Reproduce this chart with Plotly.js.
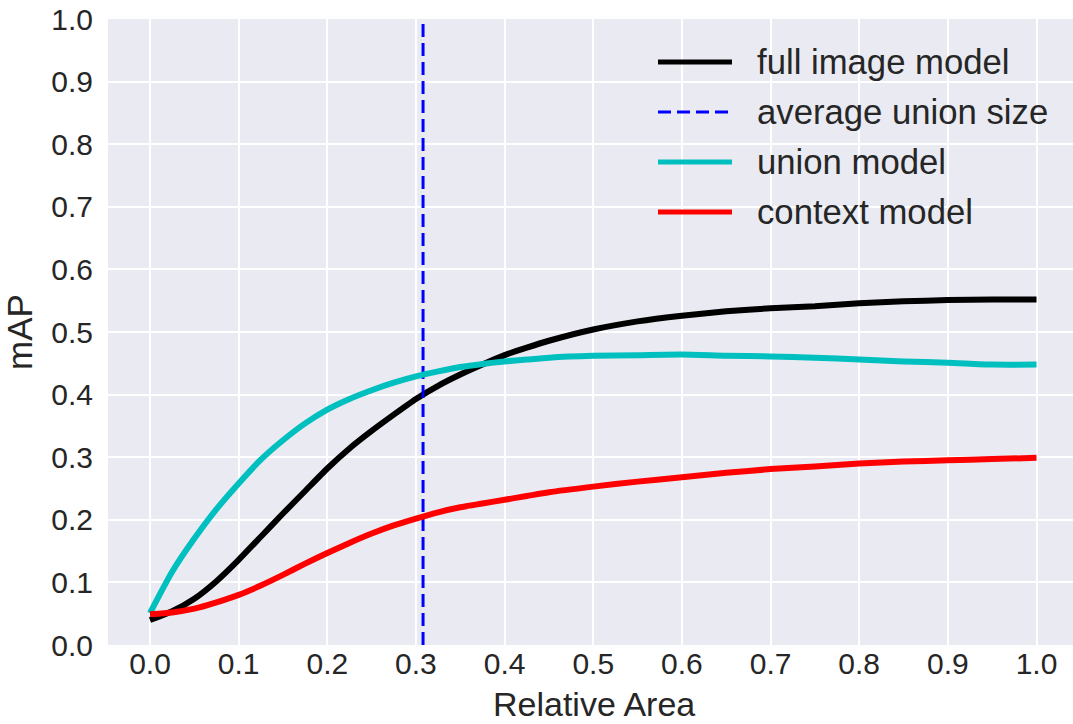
<!DOCTYPE html>
<html>
<head>
<meta charset="utf-8">
<script src="https://cdn.plot.ly/plotly-3.0.1.min.js"></script>
<style>html,body{margin:0;padding:0;background:#fff;}#chart{width:1073px;height:724px;}</style>
</head>
<body>
<div id="chart"></div>
<script>
var relArea = [0, 0.025, 0.05, 0.075, 0.1, 0.125, 0.15, 0.175, 0.2, 0.225, 0.25, 0.275, 0.3, 0.325, 0.35, 0.375, 0.4, 0.425, 0.45, 0.5, 0.55, 0.6, 0.65, 0.7, 0.75, 0.8, 0.85, 0.9, 0.95, 1.0];
var fullImage = [0.040, 0.054, 0.074, 0.102, 0.136, 0.173, 0.210, 0.246, 0.282, 0.314, 0.342, 0.368, 0.393, 0.414, 0.432, 0.448, 0.463, 0.475, 0.486, 0.504, 0.517, 0.526, 0.533, 0.538, 0.541, 0.546, 0.549, 0.551, 0.552, 0.552];
var unionModel = [0.051, 0.117, 0.170, 0.217, 0.258, 0.296, 0.327, 0.354, 0.376, 0.393, 0.407, 0.419, 0.429, 0.437, 0.444, 0.449, 0.453, 0.456, 0.459, 0.462, 0.463, 0.464, 0.462, 0.461, 0.459, 0.456, 0.453, 0.451, 0.448, 0.448];
var contextModel = [0.049, 0.052, 0.058, 0.068, 0.080, 0.095, 0.112, 0.130, 0.147, 0.163, 0.178, 0.191, 0.202, 0.212, 0.220, 0.226, 0.232, 0.238, 0.244, 0.253, 0.261, 0.268, 0.275, 0.281, 0.285, 0.290, 0.293, 0.295, 0.297, 0.299];
var avgUnionSize = 0.308;
var legendNames = ["full image model", "average union size", "union model", "context model"];
var tickVals = [0, 0.1, 0.2, 0.3, 0.4, 0.5, 0.6, 0.7, 0.8, 0.9, 1.0];
var tickText = ["0.0", "0.1", "0.2", "0.3", "0.4", "0.5", "0.6", "0.7", "0.8", "0.9", "1.0"];
var xTitle = "Relative Area";
var yTitle = "mAP";

var FONT = "Liberation Sans, Arial, sans-serif";
var TXT = "#262626";

var traces = [
  {x: relArea, y: fullImage, mode: "lines", name: legendNames[0], line: {color: "#000000", width: 6, shape: "spline", smoothing: 0.6}},
  {x: [avgUnionSize, avgUnionSize], y: [0, 1], mode: "lines", name: legendNames[1], line: {color: "#0000ff", width: 3, dash: "13px,6px"}},
  {x: relArea, y: unionModel, mode: "lines", name: legendNames[2], line: {color: "#00bfbf", width: 6, shape: "spline", smoothing: 0.6}},
  {x: relArea, y: contextModel, mode: "lines", name: legendNames[3], line: {color: "#ff0000", width: 6, shape: "spline", smoothing: 0.6}}
];

// manual legend (matplotlib style long handles)
var L = 108, R = 1073, T = 19, B = 645;
function px(x){ return (x - L) / (R - L); }
function py(y){ return (B - y) / (B - T); }
var legStyles = [
  {color: "#000000", width: 5, dash: "solid"},
  {color: "#0000ff", width: 3, dash: "13px,6px"},
  {color: "#00bfbf", width: 5, dash: "solid"},
  {color: "#ff0000", width: 5, dash: "solid"}
];
var legY = [62, 112, 162, 212];
var shapes = [], annotations = [];
for (var i = 0; i < legendNames.length; i++) {
  shapes.push({type: "line", xref: "paper", yref: "paper", x0: px(658), x1: px(732), y0: py(legY[i]), y1: py(legY[i]), line: legStyles[i]});
  annotations.push({xref: "paper", yref: "paper", x: px(755), y: py(legY[i]), xanchor: "left", yanchor: "middle", showarrow: false, text: legendNames[i], font: {family: FONT, size: 34.7, color: TXT}});
}
// x axis title placed like the reference
annotations.push({xref: "paper", yref: "paper", x: px(594), y: py(704), xanchor: "center", yanchor: "middle", showarrow: false, text: xTitle, font: {family: FONT, size: 34, color: TXT}});

var layout = {
  width: 1073, height: 724,
  margin: {l: 108, r: 0, t: 19, b: 79, pad: 0},
  paper_bgcolor: "#ffffff",
  plot_bgcolor: "#EAEAF2",
  showlegend: false,
  font: {family: FONT, color: TXT, size: 30},
  xaxis: {
    range: [-42/886.5, 923/886.5],
    tickmode: "array", tickvals: tickVals, ticktext: tickText,
    showgrid: true, gridcolor: "#ffffff", gridwidth: 2,
    zeroline: false, showline: false,
    ticks: "", ticklen: 0, ticklabelstandoff: -2,
    tickfont: {family: FONT, size: 30, color: TXT}
  },
  yaxis: {
    range: [0, 1],
    tickmode: "array", tickvals: tickVals, ticktext: tickText,
    showgrid: true, gridcolor: "#ffffff", gridwidth: 2,
    zeroline: false, showline: false,
    ticks: "outside", ticklen: 8, tickcolor: "rgba(0,0,0,0)",
    tickfont: {family: FONT, size: 30, color: TXT},
    title: {text: yTitle, font: {family: FONT, size: 35, color: TXT}, standoff: 10}
  },
  shapes: shapes,
  annotations: annotations
};

Plotly.newPlot("chart", traces, layout, {staticPlot: true, displayModeBar: false});
</script>
</body>
</html>
